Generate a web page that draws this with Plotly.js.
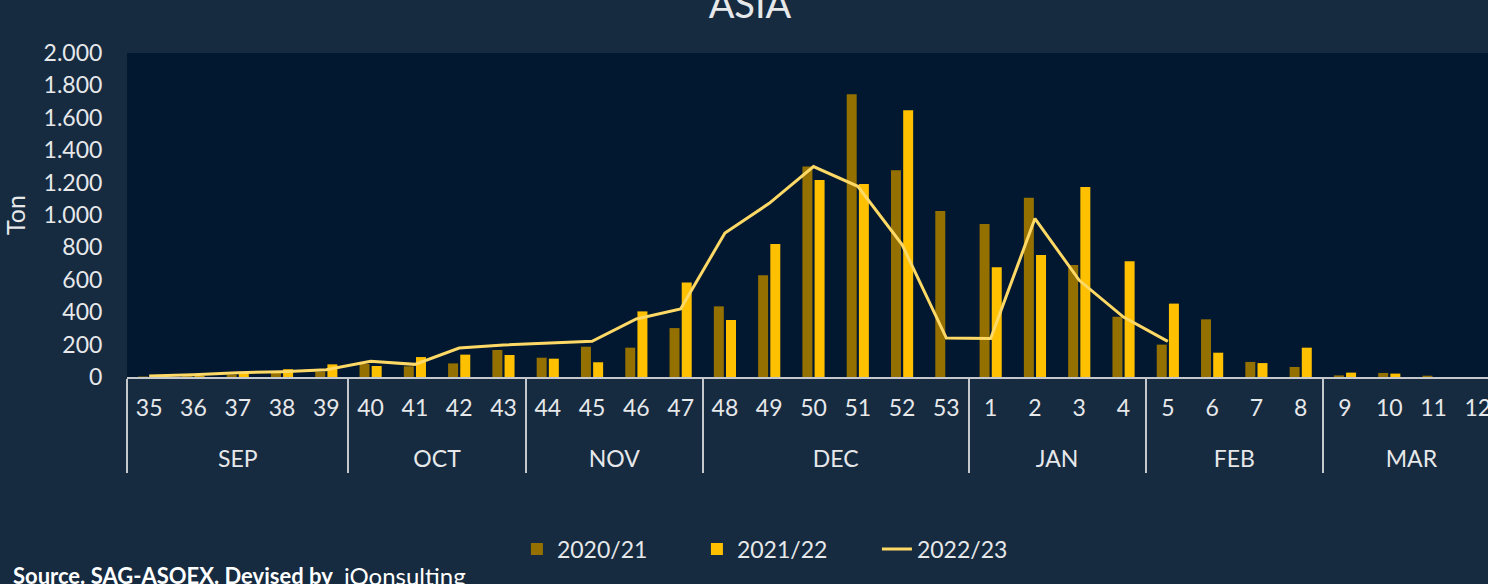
<!DOCTYPE html>
<html>
<head>
<meta charset="utf-8">
<script src="https://cdn.plot.ly/plotly-3.0.1.min.js"></script>
<style>
html, body { margin: 0; padding: 0; background: #162a40; overflow: hidden; }
#chart { width: 1500px; height: 584px; }
</style>
</head>
<body>
<div id="chart"></div>
<script>
// Categories
const months = ["SEP","SEP","SEP","SEP","SEP","OCT","OCT","OCT","OCT","NOV","NOV","NOV","NOV",
  "DEC","DEC","DEC","DEC","DEC","DEC","JAN","JAN","JAN","JAN","FEB","FEB","FEB","FEB","MAR","MAR","MAR","MAR"];
const weeks = ["35","36","37","38","39","40","41","42","43","44","45","46","47",
  "48","49","50","51","52","53","1","2","3","4","5","6","7","8","9","10","11","12"];

// Series (Ton)
const season1Name = "2020/21";
const season1 = [3,6,15,25,33,80,66,84,167,119,187,181,302,
  436,628,1299,1745,1276,1025,945,1107,691,372,200,356,93,62,10,25,8,0];
const season2Name = "2021/22";
const season2 = [2,5,28,48,78,68,123,138,136,113,91,405,584,
  352,821,1216,1192,1646,0,677,753,1173,714,453,150,86,181,27,21,0,0];
const season3Name = "2022/23";
const season3 = [6,14,27,33,45,97,78,179,198,208,220,358,420,
  889,1072,1299,1177,817,240,238,978,597,370,220,null,null,null,null,null,null,null];

const yTicks = [0,200,400,600,800,1000,1200,1400,1600,1800,2000];

const textColor = "#e6e8ea";
const fontFam = "Lato, 'Open Sans', sans-serif";

// week labels get an empty second line so the month row sits lower, as in the reference
const weekLabels = weeks.map(w => w + "<br>\u00a0");
const xCats = [months, weekLabels];

const traces = [
  { type: "bar", name: season1Name, x: xCats, y: season1,
    marker: { color: "#937000", line: { width: 0 } } },
  { type: "bar", name: season2Name, x: xCats, y: season2,
    marker: { color: "#ffc000", line: { width: 0 } } },
  { type: "scatter", mode: "lines", name: season3Name, x: xCats, y: season3,
    line: { color: "#ffd966", width: 3 }, connectgaps: false }
];

const layout = {
  width: 1500, height: 584,
  margin: { l: 127, r: 0, t: 53, b: 207 },
  paper_bgcolor: "#162a40",
  plot_bgcolor: "#011830",
  separators: ",.",
  font: { family: fontFam, color: textColor, size: 23 },
  title: { text: "ASIA", font: { size: 38, color: textColor, family: fontFam },
    x: 0.5, xref: "container", xanchor: "center",
    y: 0.992, yref: "container", yanchor: "middle" },
  barmode: "group",
  bargap: 0.45,
  bargroupgap: 0.18,
  showlegend: true,
  legend: { orientation: "h", x: 0.284, xanchor: "left", y: -0.531, yanchor: "middle",
    font: { size: 23, color: textColor }, bgcolor: "rgba(0,0,0,0)",
    entrywidth: 135, entrywidthmode: "pixels", traceorder: "normal" },
  xaxis: {
    type: "multicategory",
    range: [-0.5, 30.5],
    showgrid: false, zeroline: false,
    showline: true, linecolor: "#c4c8cc", linewidth: 2,
    showdividers: true, dividercolor: "#c4c8cc", dividerwidth: 2,
    tickfont: { size: 23, color: textColor },
    ticklabelstandoff: 9,
    automargin: false
  },
  yaxis: {
    range: [0, 2000],
    tickvals: yTicks,
    tickformat: ",d",
    showgrid: false, zeroline: false, showline: false,
    ticks: "outside", ticklen: 0,
    ticklabelstandoff: 19,
    tickfont: { size: 23, color: textColor },
    title: { text: "Ton", font: { size: 25, color: textColor }, standoff: 10 },
    automargin: false
  },
  annotations: [
    { xref: "paper", yref: "paper", x: -0.0845, y: -0.612, xanchor: "left", yanchor: "middle",
      text: "<b>Source. SAG-ASOEX. Devised by</b>", showarrow: false,
      font: { size: 22, color: "#ffffff", family: fontFam } },
    { xref: "paper", yref: "paper", x: 0.1566, y: -0.614, xanchor: "left", yanchor: "middle",
      text: "iQonsulting", showarrow: false,
      font: { size: 24, color: "#ffffff", family: fontFam } }
  ]
};

Plotly.newPlot("chart", traces, layout, { staticPlot: true, displayModeBar: false });
</script>
</body>
</html>
